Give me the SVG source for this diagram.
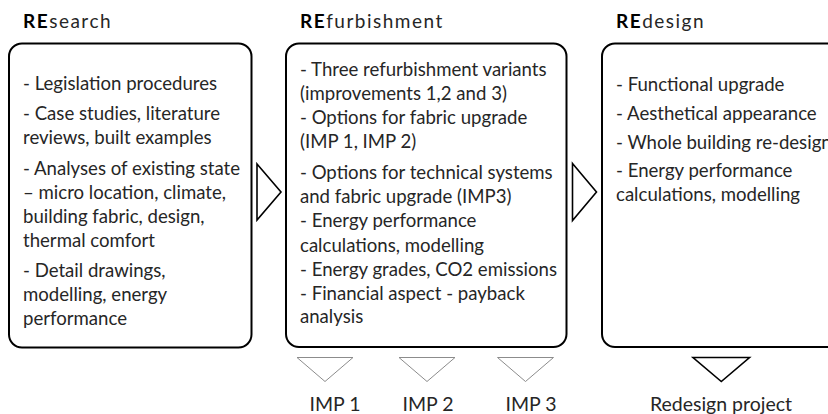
<svg xmlns="http://www.w3.org/2000/svg" width="828" height="414" viewBox="0 0 828 414">
<style>
text{font-family:Lato,"Liberation Sans",sans-serif;fill:#262626}
.b{font-size:18.6px}
.h{font-size:19px;letter-spacing:1.5px}
.h tspan.re{font-weight:bold;fill:#000}
.box{fill:#fff;stroke:#000;stroke-width:2}
.arr{fill:#fff;stroke:#000;stroke-width:1.6;stroke-linejoin:miter}
.dg{fill:#fff;stroke:#8c8c8c;stroke-width:1}
.db{fill:#fff;stroke:#000;stroke-width:1.6}
.lab{font-size:19.5px;text-anchor:middle}
</style>
<rect width="828" height="414" fill="#fff"/>
<g id="research">
<text class="h" x="23" y="28"><tspan class="re">RE</tspan>search</text>
<rect class="box" x="9" y="43.5" width="242.5" height="304" rx="13"/>
<text class="b" x="23" y="90">- Legislation procedures</text>
<text class="b" x="23" y="119.5">- Case studies, literature</text>
<text class="b" x="23" y="143.5">reviews, built examples</text>
<text class="b" x="23" y="175">- Analyses of existing state</text>
<text class="b" x="23" y="199">– micro location, climate,</text>
<text class="b" x="23" y="223">building fabric, design,</text>
<text class="b" x="23" y="247">thermal comfort</text>
<text class="b" x="23" y="277">- Detail drawings,</text>
<text class="b" x="23" y="301">modelling, energy</text>
<text class="b" x="23" y="325">performance</text>
</g>
<g id="refurbishment">
<text class="h" x="300" y="28"><tspan class="re">RE</tspan>furbishment</text>
<rect class="box" x="286" y="43.5" width="280.5" height="303.5" rx="13"/>
<text class="b" x="300" y="76">- Three refurbishment variants</text>
<text class="b" x="300" y="100">(improvements 1,2 and 3)</text>
<text class="b" x="300" y="124">- Options for fabric upgrade</text>
<text class="b" x="300" y="148">(IMP 1, IMP 2)</text>
<text class="b" x="300" y="179">- Options for technical systems</text>
<text class="b" x="300" y="203">and fabric upgrade (IMP3)</text>
<text class="b" x="300" y="227">- Energy performance</text>
<text class="b" x="300" y="252">calculations, modelling</text>
<text class="b" x="300" y="276">- Energy grades, CO2 emissions</text>
<text class="b" x="300" y="300">- Financial aspect - payback</text>
<text class="b" x="300" y="323">analysis</text>
</g>
<g id="redesign">
<text class="h" x="616" y="28"><tspan class="re">RE</tspan>design</text>
<rect class="box" x="602" y="43.5" width="250" height="303.5" rx="13"/>
<text class="b" x="616" y="91">- Functional upgrade</text>
<text class="b" x="616" y="120">- Aesthetical appearance</text>
<text class="b" x="616" y="148.5">- Whole building re-design</text>
<text class="b" x="616" y="177">- Energy performance</text>
<text class="b" x="616" y="201">calculations, modelling</text>
</g>
<g id="connectors">
<polygon class="arr" points="257,164 281,192 257,220"/>
<polygon class="arr" points="572.5,163.5 596.5,192 572.5,220.5"/>
<polygon class="dg" points="297,357.5 353,357.5 325,381.5"/>
<polygon class="dg" points="399,357.5 455,357.5 427,381.5"/>
<polygon class="dg" points="497.5,357.5 553.5,357.5 525.5,381.5"/>
<polygon class="db" points="693,357.5 749.5,357.5 721.3,381.5"/>
</g>
<g id="outputs">
<text class="lab" x="335" y="411">IMP 1</text>
<text class="lab" x="428" y="411">IMP 2</text>
<text class="lab" x="531" y="411">IMP 3</text>
<text class="lab" x="721" y="411">Redesign project</text>
</g>
</svg>
